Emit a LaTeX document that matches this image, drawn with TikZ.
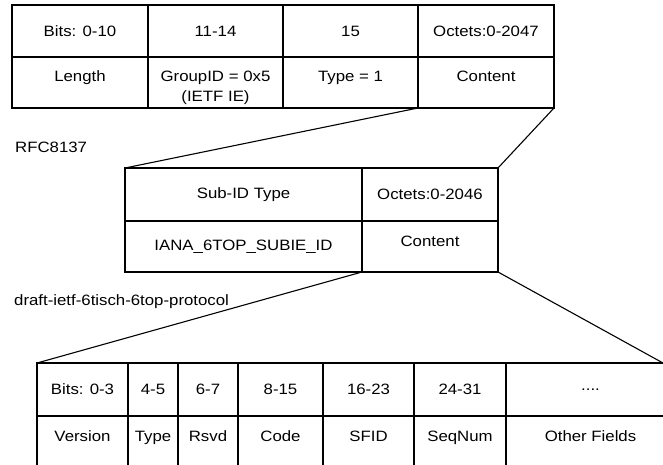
\documentclass[tikz,border=0pt]{standalone}
\usepackage{fontspec}
\setmainfont{Liberation Sans}[FakeStretch=1.12]
\usepackage{tikz}
\usetikzlibrary{positioning}

\tikzset{
    cell/.style 2 args={draw, line width=1.1pt, outer sep=0pt, inner sep=0pt,
        minimum width=#1, minimum height=#2},
    field/.style={anchor=base, inner sep=0pt, align=center},
    caption/.style={anchor=base west, inner sep=0pt},
    zoomline/.style={line width=1.1pt}
}

\begin{document}
\begin{tikzpicture}[x=1pt, y=-1pt, font=\fontsize{15}{20}\selectfont]
    % Frame
    \useasboundingbox (0,0) rectangle (663,465);
    \clip (0,0) rectangle (663,465);

    % IEEE 802.15.4 payload IE (RFC8137)
    \node[cell={136}{52}] (tbits) at (80,31) {Bits: 0-10};
    \node[cell={135}{52}] (tgid) at (215.5,31) {11-14};
    \node[cell={135}{52}] (ttype) at (350.5,31) {15};
    \node[cell={136}{52}] (toct) at (486,31) {Octets:0-2047};

    \node[cell={136}{51}] (tlen) at (80,82.5) {};
    \node[cell={135}{51}] (tgrp) at (215.5,82.5) {};
    \node[cell={135}{51}] (ttyp) at (350.5,82.5) {};
    \node[cell={136}{51}] (tcnt) at (486,82.5) {};

    \node[field] (tlen-l) at ([yshift=-25pt]tlen.north) {Length};
    \node[field] (tgrp-l) at ([yshift=-45pt]tgrp.north) {GroupID = 0x5\\(IETF IE)};
    \node[field] (ttyp-l) at ([yshift=-25pt]ttyp.north) {Type = 1};
    \node[field] (tcnt-l) at ([yshift=-25pt]tcnt.north) {Content};

    \node[caption] (rfc) at (15,153) {RFC8137};

    % Sub-IE
    \node[cell={237}{53}] (msub) at (243.5,194.5) {Sub-ID Type};
    \node[cell={136}{53}] (moct) at (430,194.5) {Octets:0-2046};
    \node[cell={237}{51}] (mid) at (243.5,246.5) {IANA\_6TOP\_SUBIE\_ID};
    \node[cell={136}{51}] (mcnt) at (430,246.5) {};
    \node[field] (mcnt-l) at ([yshift=-25pt]mcnt.north) {Content};

    \draw[zoomline] (ttyp.south east) -- (msub.north west);
    \draw[zoomline] (tcnt.south east) -- (moct.north east);

    \node[caption] (draft) at (14,305) {draft-ietf-6tisch-6top-protocol};

    % 6P message
    \node[cell={91}{53}] (bbits) at (82.5,389.5) {Bits: 0-3};
    \node[cell={50}{53}] (bb2) at (153,389.5) {4-5};
    \node[cell={60}{53}] (bb3) at (208,389.5) {6-7};
    \node[cell={85}{53}] (bb4) at (280.5,389.5) {8-15};
    \node[cell={91}{53}] (bb5) at (368.5,389.5) {16-23};
    \node[cell={92}{53}] (bb6) at (460,389.5) {24-31};
    \node[cell={169}{53}] (bb7) at (590.5,389.5) {....};

    \node[cell={91}{64}] (bver) at (82.5,448) {};
    \node[cell={50}{64}] (btyp) at (153,448) {};
    \node[cell={60}{64}] (brsv) at (208,448) {};
    \node[cell={85}{64}] (bcode) at (280.5,448) {};
    \node[cell={91}{64}] (bsfid) at (368.5,448) {};
    \node[cell={92}{64}] (bseq) at (460,448) {};
    \node[cell={169}{64}] (bother) at (590.5,448) {};

    \node[field] (bver-l) at ([yshift=-25pt]bver.north) {Version};
    \node[field] (btyp-l) at ([yshift=-25pt]btyp.north) {Type};
    \node[field] (brsv-l) at ([yshift=-25pt]brsv.north) {Rsvd};
    \node[field] (bcode-l) at ([yshift=-25pt]bcode.north) {Code};
    \node[field] (bsfid-l) at ([yshift=-25pt]bsfid.north) {SFID};
    \node[field] (bseq-l) at ([yshift=-25pt]bseq.north) {SeqNum};
    \node[field] (bother-l) at ([yshift=-25pt]bother.north) {Other Fields};

    \coordinate (edge) at (663,363);
    \draw[zoomline] (mid.south east) -- (bbits.north west);
    \draw[zoomline] (mcnt.south east) -- (edge);
\end{tikzpicture}
\end{document}
